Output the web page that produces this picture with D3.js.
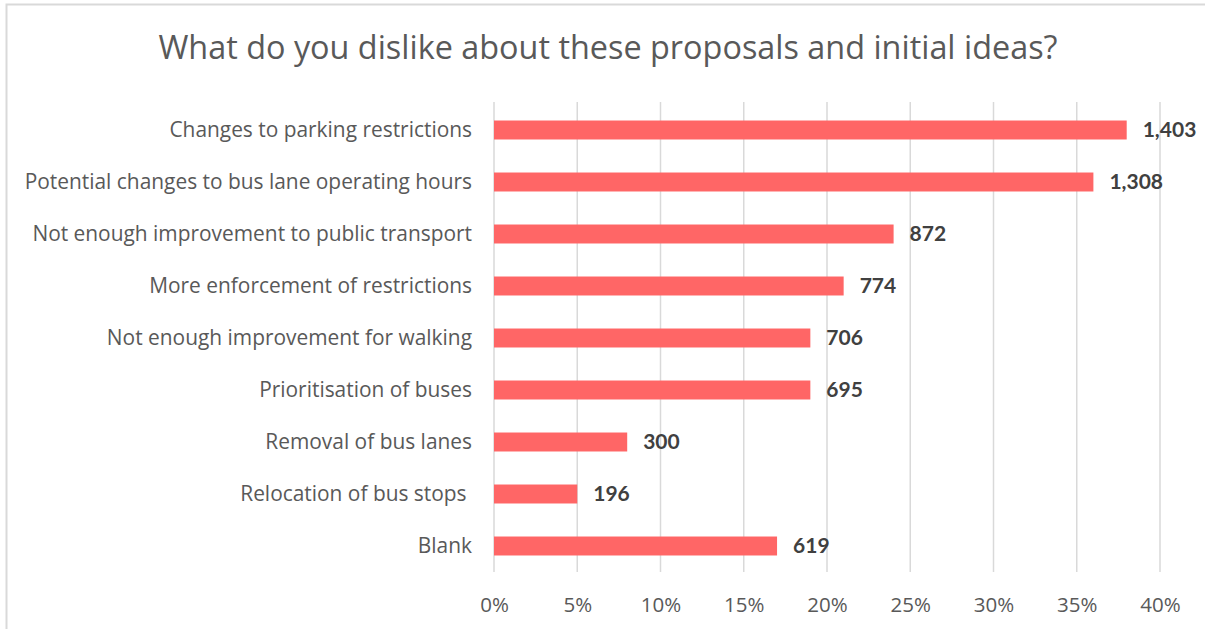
<!DOCTYPE html>
<html><head><meta charset="utf-8">
<script src="https://cdn.jsdelivr.net/npm/d3@7"></script>
<style>body{margin:0;background:#fff;}svg{display:block;}</style>
</head><body>
<svg id="chart" width="1205" height="629"></svg>
<script>
const categories = ["Changes to parking restrictions","Potential changes to bus lane operating hours","Not enough improvement to public transport","More enforcement of restrictions","Not enough improvement for walking","Prioritisation of buses","Removal of bus lanes","Relocation of bus stops ","Blank"];
const percentages = [38, 36, 24, 21, 19, 19, 8, 5, 17];
const counts = [1403, 1308, 872, 774, 706, 695, 300, 196, 619];
const xTicks = [0, 5, 10, 15, 20, 25, 30, 35, 40];
const title = "What do you dislike about these proposals and initial ideas?";

const svg = d3.select("#chart");
const font = "Lato, 'Open Sans', sans-serif";
const font2 = "'Open Sans', Lato, sans-serif";
const m = {left:494, right:1160, top:104, bottom:572};

svg.append("rect").attr("x",6.5).attr("y",4.5).attr("width",1205).attr("height",640)
  .attr("fill","#fff").attr("stroke","#d9d9d9").attr("stroke-width",2);

svg.append("text").attr("x",608).attr("y",59).attr("text-anchor","middle")
  .attr("font-family",font2).attr("font-size",32.4).attr("font-weight",400).attr("fill","#595959").text(title);

const x = d3.scaleLinear().domain([0,40]).range([m.left,m.right]);
const y = d3.scaleBand().domain(categories).range([m.top,m.bottom]).paddingInner(0.635).paddingOuter(0.3175);

const g = svg.append("g");
g.selectAll(".grid").data(xTicks).join("line")
  .attr("x1",d=>x(d)).attr("x2",d=>x(d)).attr("y1",m.top-2).attr("y2",m.bottom)
  .attr("stroke","#d9d9d9").attr("stroke-width",1.5);

const xAxis = d3.axisBottom(x).tickValues(xTicks).tickFormat(d=>d+"%").tickSize(0).tickPadding(0);
const ax = svg.append("g").attr("transform",`translate(0,${m.bottom})`).call(xAxis);
ax.select(".domain").remove();
ax.selectAll("text").attr("font-family",font2).attr("font-size",20.5).attr("fill","#595959").attr("dy",null).attr("y",40);

const yAxis = d3.axisLeft(y).tickSize(0).tickPadding(22);
const ay = svg.append("g").attr("transform",`translate(${m.left},0)`).call(yAxis);
ay.select(".domain").remove();
ay.selectAll("text").attr("font-family",font2).attr("font-size",20.9).attr("fill","#595959").style("white-space","pre");

g.selectAll(".bar").data(categories).join("rect")
  .attr("x",x(0)).attr("y",d=>y(d)).attr("width",(d,i)=>x(percentages[i])-x(0)).attr("height",y.bandwidth())
  .attr("fill","#ff6666");

g.selectAll(".lbl").data(categories).join("text")
  .attr("x",(d,i)=>x(percentages[i])+16).attr("y",d=>y(d)+y.bandwidth()/2).attr("dy","0.35em")
  .attr("font-family",font).attr("font-size",21).attr("font-weight",700).attr("fill","#404040")
  .text((d,i)=>d3.format(",")(counts[i]));
</script>
</body></html>
